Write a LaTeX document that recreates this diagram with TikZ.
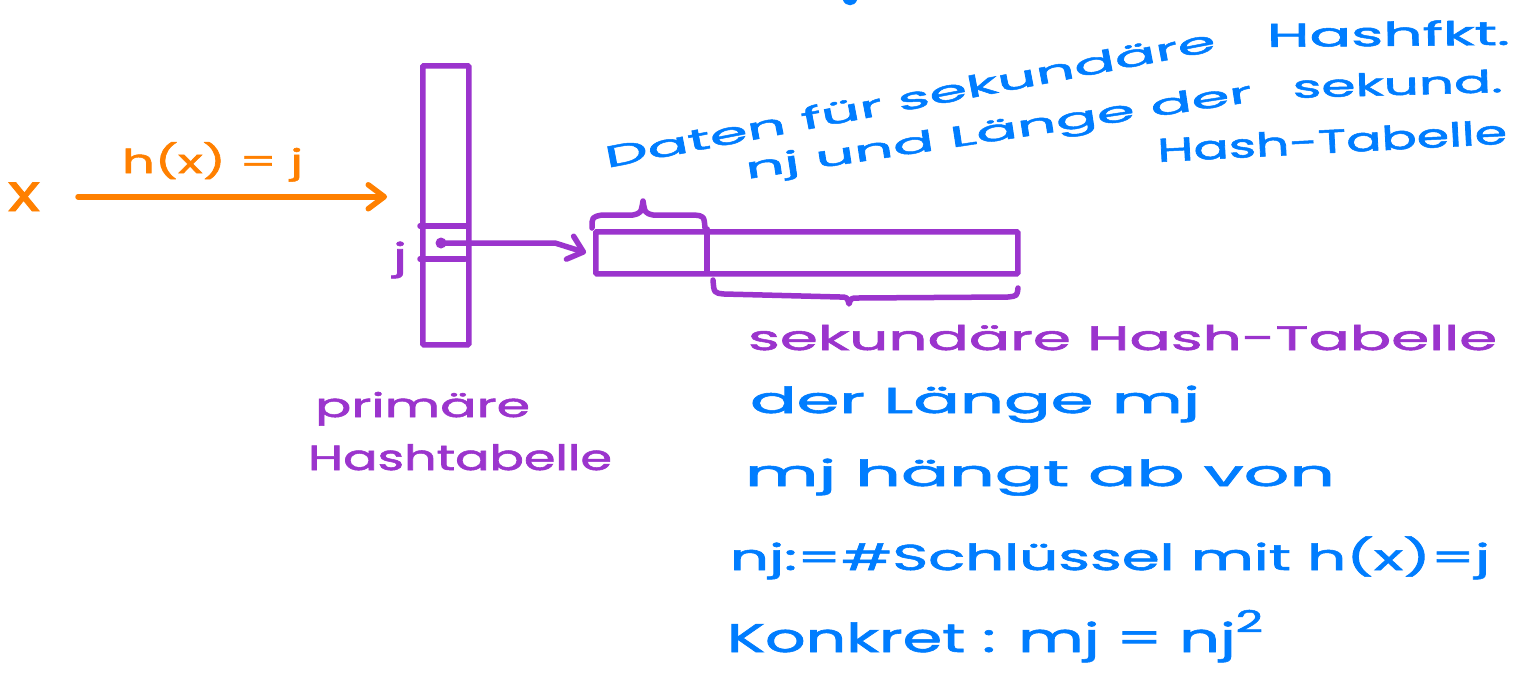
\documentclass[tikz,border=0pt]{standalone}
\usepackage{fontspec}
\usepackage{graphicx}
\newfontfamily\hand{Poppins}[FakeBold=1.5]
\usetikzlibrary{arrows.meta}
\definecolor{horange}{RGB}{255,128,0}
\definecolor{hpurple}{RGB}{155,52,205}
\definecolor{hblue}{RGB}{0,125,255}
\newcommand\fitw[2]{\resizebox{#1}{\height}{#2}}
\tikzset{
  txt/.style={inner sep=0pt, outer sep=0pt, anchor=base west},
  fs/.style={font=\hand\fontsize{#1}{#1}\selectfont},
  pen/.style={line width=5.5pt, line cap=round, line join=round},
  tablebox/.style={draw=hpurple, line width=5.5pt, inner sep=0pt, anchor=north west, rounded corners=1pt},
  barb/.style={-{Straight Barb[length=#1,width=24pt,round]}},
}
\begin{document}
\begin{tikzpicture}[x=1pt,y=-1pt]
\useasboundingbox (0,0) rectangle (1526,694);
\fill[white] (0,0) rectangle (1526,694);

% cut-off stroke at the top edge
\fill[hblue] (843,0) .. controls (845,7) and (855,7) .. (857,0) -- cycle;

% primary hash table
\node[tablebox, minimum width=46pt, minimum height=279pt] (prim) at (420,63) {};
\draw[pen, hpurple] (420,226) -- (467,226);
\draw[pen, hpurple] (420,259) -- (465,259);
\coordinate (cell) at (441,243);
\fill[hpurple] (cell) circle (5.5pt);
\node[txt, fs=36, text=hpurple] (jlab) at (393,269) {\fitw{14pt}{j}};

% secondary hash table
\node[tablebox, minimum width=422pt, minimum height=42pt] (sec) at (593,229) {};
\draw[pen, hpurple] (707,229) -- (707,271);
\draw[pen, hpurple] (592,228) .. controls (592,217) .. (602,215) -- (633,215)
  .. controls (641,213) .. (643,201) .. controls (645,213) .. (653,215) -- (694,215)
  .. controls (704,216) .. (705,228);
\draw[pen, hpurple] (713,280) .. controls (714,293) .. (724,294) -- (840,297)
  .. controls (847,297) .. (849,304) .. controls (851,298) .. (858,298) -- (1008,297)
  .. controls (1017,296) .. (1018,288);

% arrow from cell j to secondary table
\draw[pen, hpurple, barb=14pt] (cell) -- (cell -| 555,0) -- ([xshift=-7pt]sec.west);

% x and hash arrow
\node[txt, fs=52, text=horange] (xlab) at (8,211) {\fitw{32pt}{x}};
\node[txt, fs=33, text=horange] (hlab) at (122,173) {\fitw{181pt}{h(x) = j}};
\draw[pen, horange, barb=16pt, shorten <=38pt] (xlab.east) -- ([xshift=-33pt]xlab.east -| prim.west);

% purple labels
\node[txt, fs=33, text=hpurple] (primlab) at (315,417) {\fitw{215pt}{primäre}};
\node[txt, fs=35, text=hpurple] (primlabb) at (308,470) {\fitw{304pt}{Hashtabelle}};
\node[txt, fs=34, text=hpurple] (seclab) at (748,350) {\fitw{749pt}{sekundäre Hash-Tabelle}};

% blue notes, top
\node[txt, fs=30, text=hblue, rotate=10.9] (ta) at (607,168) {\fitw{621pt}{Daten für sekundäre}};
\node[txt, fs=33, text=hblue, rotate=0.5] (tb) at (1267,47) {\fitw{243pt}{Hashfkt.}};
\node[txt, fs=29, text=hblue, rotate=8.7] (tc) at (747,179) {\fitw{512pt}{nj und Länge der}};
\node[txt, fs=31, text=hblue, rotate=1.6] (td) at (1293,98) {\fitw{210pt}{sekund.}};
\node[txt, fs=33, text=hblue, rotate=3] (te) at (1158,162) {\fitw{350pt}{Hash-Tabelle}};

% blue notes, bottom
\node[txt, fs=36, text=hblue] (ba) at (750,413) {\fitw{450pt}{der Länge mj}};
\node[txt, fs=36, text=hblue] (bb) at (745,486) {\fitw{590pt}{mj hängt ab von}};
\node[txt, fs=36, text=hblue] (bc) at (730,570) {\fitw{760pt}{nj:=\#Schlüssel mit h(x)=j}};
\node[txt, fs=40, text=hblue] (bd) at (727,652) {\fitw{536pt}{Konkret : mj = nj\raisebox{20pt}{\fontsize{30}{30}\selectfont 2}}};
\end{tikzpicture}
\end{document}
